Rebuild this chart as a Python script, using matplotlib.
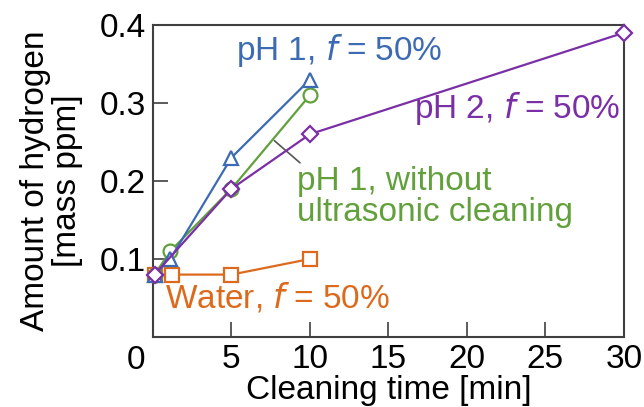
import numpy as np
import matplotlib
matplotlib.use("Agg")
import matplotlib.pyplot as plt

plt.rcParams['font.family'] = ['Liberation Sans', 'DejaVu Sans']

# data (time in min, hydrogen in mass ppm)
ph1_t = [0.1, 1.1, 5, 10]
ph1_h = [0.08, 0.10, 0.23, 0.33]

ph1_noclean_t = [0.1, 1.1, 5, 10]
ph1_noclean_h = [0.08, 0.11, 0.19, 0.31]

ph2_t = [0.1, 5, 10, 30]
ph2_h = [0.08, 0.19, 0.26, 0.39]

water_t = [0.1, 1.2, 5, 10]
water_h = [0.08, 0.08, 0.08, 0.10]

xticks = [5, 10, 15, 20, 25, 30]
yticks = [0.1, 0.2, 0.3, 0.4]

c_blue = '#3d6bb3'
c_green = '#62a03c'
c_purple = '#7a2fa6'
c_orange = '#dd6a1c'

fs = 24

fig = plt.figure(figsize=(6.44, 4.07), dpi=100)
ax = fig.add_axes([0.2376, 0.172, 0.731, 0.7666])

mk = dict(markersize=10, markerfacecolor='white', markeredgewidth=1.6,
          linewidth=1.6, clip_on=False)
ax.plot(water_t, water_h, 's-', color=c_orange, zorder=3, **mk)
ax.plot(ph1_noclean_t, ph1_noclean_h, 'o-', color=c_green, zorder=4, **mk)
ax.plot(ph1_t, ph1_h, '^-', color=c_blue, zorder=5, **mk)
ax.plot(ph2_t, ph2_h, 'D-', color=c_purple, zorder=6,
        **{**mk, 'markersize': 8})

ax.set_xlim(0, 30)
ax.set_ylim(0, 0.4)
ax.set_xticks(xticks)
ax.set_yticks(yticks)
ax.set_yticklabels(['0.1', '0.2', '0.3', '0.4'])
ax.tick_params(direction='in', length=11, width=1.2, labelsize=fs,
               color='#404040', pad=5)
for s in ax.spines.values():
    s.set_linewidth(1.5)
    s.set_color('#404040')

# shared zero at the corner
ax.text(-0.5, -0.01, '0', ha='right', va='top', fontsize=fs)

ax.set_xlabel('Cleaning time [min]', fontsize=fs, labelpad=0)
ax.set_ylabel('Amount of hydrogen\n[mass ppm]', fontsize=fs,
              linespacing=1.05, labelpad=12)

ax.text(5.3, 0.367, 'pH 1, $\\it{f}$ = 50%', color=c_blue, fontsize=fs,
        va='center')
ax.text(16.6, 0.293, 'pH 2, $\\it{f}$ = 50%', color=c_purple, fontsize=fs,
        va='center')
ax.text(9.2, 0.18, 'pH 1, without\nultrasonic cleaning', color=c_green,
        fontsize=fs, va='center', linespacing=1.0)
ax.text(0.75, 0.051, 'Water, $\\it{f}$ = 50%', color=c_orange, fontsize=fs,
        va='center')

# leader line for the green label
lead_from = (7.6, 0.254)
lead_to = (9.5, 0.221)
ax.annotate('', xy=lead_from, xytext=lead_to,
            arrowprops=dict(arrowstyle='-', color='#555555', lw=1.2))

fig.savefig('out.png', dpi=100)
